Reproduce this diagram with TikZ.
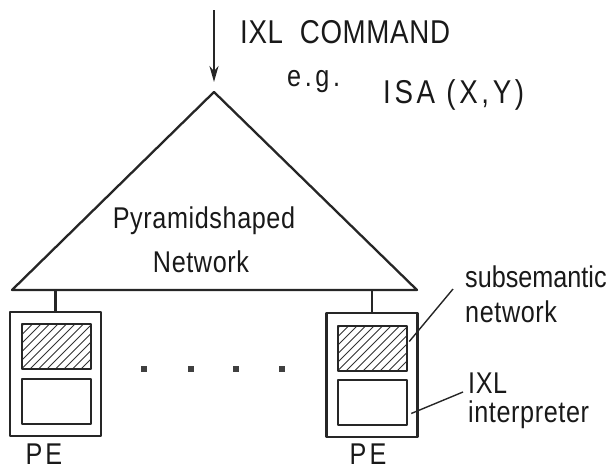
\documentclass[tikz,border=0pt]{standalone}
\usepackage{fontspec}
\setmainfont{Liberation Sans}[FakeStretch=0.84,LetterSpace=2]
\usetikzlibrary{arrows.meta,calc}
\begin{document}
\begin{tikzpicture}[x=1pt,y=-1pt,line join=round,
  ln/.style={line width=2.3pt,black!85},
  thinln/.style={line width=1.4pt,black!85},
  outerbox/.style={draw=black!85,line width=2.5pt,minimum width=91pt,minimum height=124pt,inner sep=0pt},
  innerbox/.style={draw=black!85,line width=2.5pt,minimum width=69pt,minimum height=45pt,inner sep=0pt},
  hatched/.style={path picture={\foreach \i in {-60,-51.5,...,80}{\draw[line width=0.9pt,black!80] ([xshift=\i pt]path picture bounding box.south west) -- ++(60,-60);}}},
  lbl/.style={font=\fontsize{30}{32}\selectfont,inner sep=0pt,text=black!90},
  big/.style={font=\fontsize{33}{35}\selectfont,inner sep=0pt,text=black!90},
  dot/.style={fill=black!75,minimum size=6pt,inner sep=0pt}]
\useasboundingbox (0,0) rectangle (611,469);

% pyramid
\coordinate (apex) at (214,92);
\coordinate (bl) at (12,290);
\coordinate (br) at (417,290);
\draw[ln] (bl) -- (apex) -- (br) -- cycle;
\node[lbl,anchor=base] (pyr) at (204,228) {Pyramidshaped};
\node[lbl,anchor=base] (net) at (201,272) {Network};

% command arrow
\coordinate (cmd) at (214,10);
\coordinate (tip) at (214,82);
\draw[ln,-{Stealth[length=16pt,width=9pt]}] (cmd) -- (tip);
\node[big,anchor=base west] (cmdtxt) at (240,43) {IXL\ \ COMMAND};
\node[lbl,anchor=base west] (eg) at (287,86) {\addfontfeature{LetterSpace=12}e.g.};
\node[big,anchor=base west] (isa) at (383,103) {\addfontfeature{LetterSpace=11}ISA (X,Y)};

% PEs
\node[outerbox] (pe1) at (55.5,374) {};
\node[innerbox,hatched] (h1) at (56.5,346.5) {};
\node[innerbox] (l1) at (56.5,401.5) {};
\node[outerbox] (pe2) at (372,375) {};
\node[innerbox,hatched] (h2) at (372.5,348.5) {};
\node[innerbox] (l2) at (372.5,402.5) {};
\draw[ln] (pe1.north) -- (pe1.north |- bl);
\draw[ln] (pe2.north) -- (pe2.north |- br);
\node[lbl,anchor=base] (pe1lbl) at (44,464) {\addfontfeature{LetterSpace=10}PE};
\node[lbl,anchor=base] (pe2lbl) at (368,464) {\addfontfeature{LetterSpace=10}PE};

% dots
\foreach \x [count=\k] in {144,191,236,282}{\node[dot] (d\k) at (\x,369) {};}

% labels
\node[lbl,anchor=base west] (subs) at (465,287) {\addfontfeature{LetterSpace=0}subsemantic};
\node[lbl,anchor=base west] (subnet) at (465,322) {network};
\node[lbl,anchor=base west] (ixl) at (468,393) {IXL};
\node[lbl,anchor=base west] (interp) at (468,422) {interpreter};
\coordinate (sl) at (453,289);
\coordinate (il) at (463,392);
\draw[thinln] (sl) -- ($(h2.east)+(1,-7)$);
\draw[thinln] (il) -- ($(l2.east)+(3,11)$);
\end{tikzpicture}
\end{document}
